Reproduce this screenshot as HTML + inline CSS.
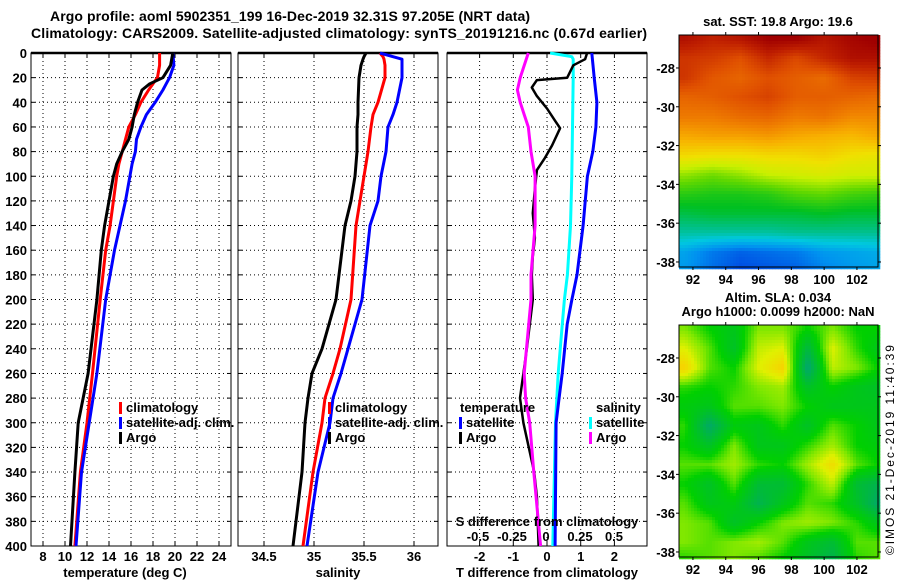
<!DOCTYPE html>
<html><head><meta charset="utf-8"><style>
html,body{margin:0;padding:0;background:#fff;}
svg{display:block;font-family:"Liberation Sans",Arial,sans-serif;}
.t{font-weight:bold;font-size:13px;fill:#000;}
.tt{font-weight:bold;font-size:14px;fill:#000;}
</style></head><body>
<svg id="fig" width="900" height="580" viewBox="0 0 900 580" xmlns="http://www.w3.org/2000/svg">
<rect width="900" height="580" fill="#fff"/>
<text class="tt" x="290" y="21" text-anchor="middle" textLength="480">Argo profile: aoml 5902351_199 16-Dec-2019 32.31S 97.205E (NRT data)</text>
<text class="tt" x="339" y="38" text-anchor="middle" textLength="616">Climatology: CARS2009. Satellite-adjusted climatology: synTS_20191216.nc (0.67d earlier)</text>
<g id="panels"></g>
<g id="maps"></g>
<text x="894" y="450" font-size="12" text-anchor="middle" transform="rotate(-90 894 450)" textLength="210">©IMOS 21-Dec-2019 11:40:39</text>
</svg>
<script>
// ---------- data ----------
const depthTicks = [0,20,40,60,80,100,120,140,160,180,200,220,240,260,280,300,320,340,360,380,400];
const tempTicks = [8,10,12,14,16,18,20,22,24];
const salTicks = [34.5,35,35.5,36];
const salTickLabels = ["34.5","35","35.5","36"];
const dTTicks = [-2,-1,0,1,2];
const dSTicks = [-0.5,-0.25,0,0.25,0.5];
const dSTickLabels = ["-0.5","-0.25","0","0.25","0.5"];

const depthT = [0,10,20,25,30,40,50,60,70,80,90,100,120,140,160,200,260,300,340,400];
const argoT = [19.8,19.6,18.9,17.7,17.0,16.6,16.3,16.1,15.8,15.2,14.7,14.4,14.0,13.6,13.3,12.9,12.1,11.2,10.9,10.5];
const climT = [18.6,18.6,18.4,18.0,17.6,16.9,16.4,15.8,15.5,15.2,14.9,14.7,14.4,14.1,13.7,13.2,12.5,12.0,11.4,10.9];
const satT  = [19.8,19.9,19.5,19.2,18.9,18.2,17.4,16.9,16.5,16.4,16.1,15.9,15.5,15.0,14.5,13.7,12.9,12.2,11.5,11.0];

const depthS = [0,3,5,10,20,40,50,60,80,100,120,140,200,240,260,280,300,340,400];
const argoS = [35.52,35.50,35.49,35.47,35.45,35.44,35.44,35.43,35.43,35.41,35.37,35.31,35.22,35.08,34.98,34.94,34.91,34.88,34.79];
const climS = [35.66,35.69,35.70,35.71,35.71,35.64,35.59,35.57,35.54,35.50,35.46,35.42,35.37,35.26,35.19,35.11,35.08,34.99,34.89];
const satS  = [35.66,35.79,35.88,35.88,35.88,35.83,35.79,35.74,35.72,35.67,35.64,35.56,35.48,35.34,35.27,35.19,35.16,35.04,34.93];

const depthArgoDT = [0,5,10,20,22,28,35,45,55,61,75,85,95,110,130,150,165,180,200,240,280,300,340,360,400];
const argoDT = [1.19,1.13,0.78,0.6,-0.3,-0.45,-0.3,0,0.24,0.39,0.15,-0.06,-0.3,-0.36,-0.42,-0.36,-0.42,-0.45,-0.42,-0.6,-0.8,-0.7,-0.38,-0.3,-0.25];
const depthSatDT = [0,20,40,60,80,100,140,180,200,220,260,280,300,400];
const satDT = [1.33,1.4,1.48,1.45,1.36,1.2,1.07,0.89,0.74,0.6,0.45,0.36,0.27,0.24];
const depthSatDS = [0,3,5,20,100,140,180,200,220,260,300,400];
const satDS = [0.03,0.19,0.2,0.2,0.19,0.18,0.157,0.135,0.12,0.09,0.07,0.05];
const depthArgoDS = [0,20,30,40,50,60,80,100,140,180,200,260,280,300,340,400];
const argoDS = [-0.13,-0.19,-0.21,-0.19,-0.16,-0.13,-0.11,-0.08,-0.08,-0.11,-0.11,-0.16,-0.15,-0.12,-0.09,-0.04];

const mapLatTicks = [-28,-30,-32,-34,-36,-38];
const mapLonTicks = [92,94,96,98,100,102];
const sstLons = [91.5,93.2,94.9,96.6,98.3,100,101.7,103.3];
const sstLats = [-26.5,-27.5,-28.5,-29.5,-30.5,-31.5,-32.5,-33.5,-34.5,-35.5,-36.5,-37.5,-38.3];
const sstVals = [
[21.6,21.3,21.5,21.9,21.9,21.5,21.8,22.0],
[21.0,20.9,20.6,21.2,20.7,21.2,21.6,21.6],
[21.0,20.5,20.3,20.6,20.4,20.2,20.8,20.9],
[20.3,20.4,20.6,20.8,20.4,20.4,20.3,20.2],
[20.0,20.0,20.2,20.3,20.0,20.1,19.8,19.8],
[19.4,19.5,19.5,19.6,19.4,19.3,19.2,19.4],
[18.8,18.7,18.7,18.8,18.8,18.9,18.7,18.6],
[17.9,17.7,17.9,18.2,18.3,18.4,18.3,18.3],
[17.2,17.1,17.1,17.2,17.5,17.6,17.4,17.3],
[16.7,16.8,16.8,16.8,16.8,16.9,16.8,16.8],
[16.2,16.2,16.2,16.2,16.3,16.3,16.3,16.3],
[15.4,15.0,14.8,14.9,15.0,15.3,15.4,15.5],
[15.3,14.9,14.6,14.7,14.8,15.1,15.3,15.4]];
const slaLons = [91.5,93,94.5,96,97.5,99,100.5,102,103.3];
const slaLats = [-26.5,-27.5,-28.5,-29.5,-30.5,-31.5,-32.5,-33.5,-34.5,-35.5,-36.5,-37.5,-38.3];
const slaVals = [
[0.3,0.0,-0.2,0.3,0.3,0.0,0.3,0.0,0.0],
[0.6,0.2,-0.3,0.5,0.6,-0.5,0.6,0.1,-0.2],
[0.9,0.2,0.0,0.6,0.9,-0.9,0.5,0.3,0.0],
[0.1,0.0,0.1,0.3,0.4,-0.3,0.0,-0.2,-0.3],
[-0.1,-0.2,0.2,0.2,0.3,0.0,-0.2,-0.2,-0.2],
[0.1,-0.8,-0.1,-0.2,0.1,-0.3,0.2,0.0,-0.2],
[0.0,-0.3,0.3,-0.2,-0.2,0.1,0.4,0.0,-0.1],
[0.2,0.2,0.4,0.1,0.0,0.4,0.8,0.2,0.0],
[0.0,-0.3,0.2,-0.4,-0.4,0.1,0.5,-0.4,-0.6],
[0.2,-0.2,-0.1,-0.6,-0.2,0.2,0.1,-0.3,-0.8],
[0.3,0.2,-0.3,0.0,0.3,0.4,0.3,0.1,-0.2],
[0.3,0.2,0.3,0.4,0.2,-0.2,-0.4,0.2,0.2],
[0.1,0.2,0.3,0.2,0.0,-0.3,-0.6,0.1,0.2]];

// ---------- helpers ----------
const NS = "http://www.w3.org/2000/svg";
function mk(tag, attrs, parent){ const e=document.createElementNS(NS,tag); for(const k in attrs) e.setAttribute(k,attrs[k]); parent.appendChild(e); return e; }
const TOP=53, BOT=546;
const yD = d => TOP + d*(BOT-TOP)/400;
const xT = v => 43 + (v-8)*11;
const xS = v => 314 + (v-35)*100;
const xDT = v => 547 + v*33.7;
const xDS = v => 546 + v*136;
const panels = document.getElementById('panels');

function panelFrame(x0,x1,name,vticks,vx){
  const g = mk('g',{},panels);
  
  
  for(const d of depthTicks){ if(d===0||d===400) continue;
    const l=mk('line',{x1:x0,x2:x1,y1:yD(d),y2:yD(d),stroke:'#000','stroke-width':1,'stroke-dasharray':'1,3'},g);
     
    mk('line',{x1:x0,x2:x0+4,y1:yD(d),y2:yD(d),stroke:'#000'},g);
    mk('line',{x1:x1-4,x2:x1,y1:yD(d),y2:yD(d),stroke:'#000'},g);
  }
  for(const v of vticks){ const x=vx(v);
    const l=mk('line',{x1:x,x2:x,y1:TOP,y2:BOT,stroke:'#000','stroke-width':1,'stroke-dasharray':'1,3'},g);
     
    mk('line',{x1:x,x2:x,y1:BOT-4,y2:BOT,stroke:'#000'},g);
    mk('line',{x1:x,x2:x,y1:TOP,y2:TOP+4,stroke:'#000'},g);
  }
  const r=mk('rect',{x:x0,y:TOP,width:x1-x0,height:BOT-TOP,fill:'none',stroke:'#000','stroke-width':1},g);
   
  mk('line',{x1:x0,x2:x1,y1:TOP,y2:TOP,stroke:'#000','stroke-width':2.5},g);
  return g;
}
function series(g, depths, vals, xf, color, name, w){
  const pts = depths.map((d,i)=> xf(vals[i]).toFixed(1)+','+yD(d).toFixed(1)).join(' ');
  const p = mk('polyline',{points:pts,fill:'none',stroke:color,'stroke-width':w||3,'stroke-linejoin':'round'},g);
  
  
}
function label(txt,x,y,anchor,name,cls){
  const t=mk('text',{x:x,y:y,'text-anchor':anchor||'middle',class:cls||'t'},panels);
  t.textContent=txt;
  
  
  return t;
}
function legendItem(x,y,color,txt,name){
  mk('rect',{x:x,y:y-10,width:3,height:12,fill:color},panels);
  const t=label(txt,x+7,y,'start',name);
  t.setAttribute('font-size','13');
}

// Panel 1
const g1 = panelFrame(31,231,'temperature-panel',tempTicks,xT);
series(g1,depthT,climT,xT,'#ff0000','climatology-temperature-line');
series(g1,depthT,satT,xT,'#0000ff','satellite-temperature-line');
series(g1,depthT,argoT,xT,'#000000','argo-temperature-line');
for(const d of depthTicks) label(String(d),27,yD(d)+5,'end','depth-tick-label');
for(const v of tempTicks) label(String(v),xT(v),561,'middle','temperature-tick-label');
label('temperature (deg C)',125,577,'middle','temperature-axis-title');
legendItem(119,412,'#ff0000','climatology','legend-climatology');
legendItem(119,427,'#0000ff','satellite-adj. clim.','legend-satellite-adj');
legendItem(119,442,'#000000','Argo','legend-argo');

// Panel 2
const g2 = panelFrame(238,438,'salinity-panel',salTicks,xS);
series(g2,depthS,climS,xS,'#ff0000','climatology-salinity-line');
series(g2,depthS,satS,xS,'#0000ff','satellite-salinity-line');
series(g2,depthS,argoS,xS,'#000000','argo-salinity-line');
salTicks.forEach((v,i)=>label(salTickLabels[i],xS(v),561,'middle','salinity-tick-label'));
label('salinity',338,577,'middle','salinity-axis-title');
legendItem(328,412,'#ff0000','climatology','legend-climatology-s');
legendItem(328,427,'#0000ff','satellite-adj. clim.','legend-satellite-adj-s');
legendItem(328,442,'#000000','Argo','legend-argo-s');

// Panel 3
const g3 = panelFrame(447,647,'difference-panel',dTTicks,xDT);
series(g3,depthSatDS,satDS,xDS,'#00ffff','salinity-satellite-diff-line');
series(g3,depthSatDT,satDT,xDT,'#0000ff','temperature-satellite-diff-line');
series(g3,depthArgoDT,argoDT,xDT,'#000000','temperature-argo-diff-line',2.5);
series(g3,depthArgoDS,argoDS,xDS,'#ff00ff','salinity-argo-diff-line');
for(const v of dTTicks) label(String(v),xDT(v),561,'middle','t-diff-tick-label');
label('T difference from climatology',547,577,'middle','t-diff-axis-title');
label('S difference from climatology',547,526,'middle','s-diff-axis-title');
dSTicks.forEach((v,i)=>label(dSTickLabels[i],xDS(v),541,'middle','s-diff-tick-label'));
label('temperature',460,412,'start','legend-temperature-header');
label('salinity',596,412,'start','legend-salinity-header');
legendItem(459,427,'#0000ff','satellite','legend-t-satellite');
legendItem(459,442,'#000000','Argo','legend-t-argo');
legendItem(589,427,'#00ffff','satellite','legend-s-satellite');
legendItem(589,442,'#ff00ff','Argo','legend-s-argo');

// ---------- maps ----------
const MX0=679, MX1=878, LON0=91.15, LAT0=-26.3, PXLON=16.4, PXLAT=19.4;
const mx = lon => MX0 + (lon-LON0)*PXLON;
function interp(lons,lats,vals,lon,lat){
  let i=0; while(i<lons.length-2 && lon>lons[i+1]) i++;
  let j=0; while(j<lats.length-2 && lat<lats[j+1]) j++;
  let fx=(lon-lons[i])/(lons[i+1]-lons[i]); fx=Math.max(0,Math.min(1,fx));
  let fy=(lat-lats[j])/(lats[j+1]-lats[j]); fy=Math.max(0,Math.min(1,fy));
  const a=vals[j][i],b=vals[j][i+1],c=vals[j+1][i],d=vals[j+1][i+1];
  return (a*(1-fx)+b*fx)*(1-fy)+(c*(1-fx)+d*fx)*fy;
}
function hex(h){return [parseInt(h.slice(1,3),16),parseInt(h.slice(3,5),16),parseInt(h.slice(5,7),16)];}
function cmap(stops,v){
  if(v<=stops[0][0]) return stops[0][1];
  for(let k=0;k<stops.length-1;k++){
    if(v<=stops[k+1][0]){ const f=(v-stops[k][0])/(stops[k+1][0]-stops[k][0]);
      const A=hex(stops[k][1]),B=hex(stops[k+1][1]);
      return 'rgb('+A.map((c,n)=>Math.round(c+(B[n]-c)*f)).join(',')+')'; }
  }
  return stops[stops.length-1][1];
}
const sstStops=[[14.5,'#0040e0'],[15.2,'#0090f0'],[15.8,'#00c8e0'],[16.3,'#00c090'],[16.9,'#00c020'],[17.6,'#60d800'],[18.2,'#c8f000'],[18.7,'#f0e000'],[19.3,'#f8b000'],[19.9,'#f08000'],[20.6,'#e05000'],[21.3,'#c02000'],[21.9,'#a00000']];
const slaStops=[[-1,'#00a080'],[-0.5,'#00b840'],[0,'#00d000'],[0.3,'#80e800'],[0.6,'#e0f000'],[1,'#ffc800']];
const maps=document.getElementById('maps');
function drawMap(y0,lons,lats,vals,stops,name){
  const y1=y0+232;
  const g=mk('g',{},maps);
  
  
  const step=3;
  for(let py=y0; py<y1; py+=step){
    for(let px=MX0; px<MX1; px+=step){
      const lon=LON0+(px+1.5-MX0)/PXLON, lat=LAT0-(py+1.5-y0)/PXLAT;
      const v=interp(lons,lats,vals,lon,lat);
      const r=mk('rect',{x:px,y:py,width:step+0.3,height:step+0.3,fill:cmap(stops,v)},g);
      
      
    }
  }
  mk('rect',{x:MX0,y:y0,width:MX1-MX0,height:y1-y0,fill:'none',stroke:'#000'},g);
  const ly = lat => y0 + (LAT0-lat)*PXLAT;
  for(const la of mapLatTicks){
    mk('line',{x1:MX0-3,x2:MX0,y1:ly(la),y2:ly(la),stroke:'#000'},g);
    mk('line',{x1:MX1,x2:MX1+3,y1:ly(la),y2:ly(la),stroke:'#000'},g);
    const t=mk('text',{x:675,y:ly(la)+5,'text-anchor':'end',class:'t'},g); t.textContent=String(la);
     
  }
  for(const lo of mapLonTicks){
    mk('line',{x1:mx(lo),x2:mx(lo),y1:y1,y2:y1+3,stroke:'#000'},g);
    mk('line',{x1:mx(lo),x2:mx(lo),y1:y0-3,y2:y0,stroke:'#000'},g);
    const t=mk('text',{x:mx(lo),y:y1+17,'text-anchor':'middle',class:'t'},g); t.textContent=String(lo);
     
  }
}
drawMap(35,sstLons,sstLats,sstVals,sstStops,'sst-map');
drawMap(325,slaLons,slaLats,slaVals,slaStops,'sla-map');
function mapTitle(txt,y,name){ const t=mk('text',{x:778,y:y,'text-anchor':'middle',class:'t'},maps); t.textContent=txt;
    }
mapTitle('sat. SST: 19.8 Argo: 19.6',26,'sst-map-title');
mapTitle('Altim. SLA: 0.034',302,'sla-map-title');
mapTitle('Argo h1000: 0.0099 h2000: NaN',316,'argo-height-title');
</script>
</body></html>
